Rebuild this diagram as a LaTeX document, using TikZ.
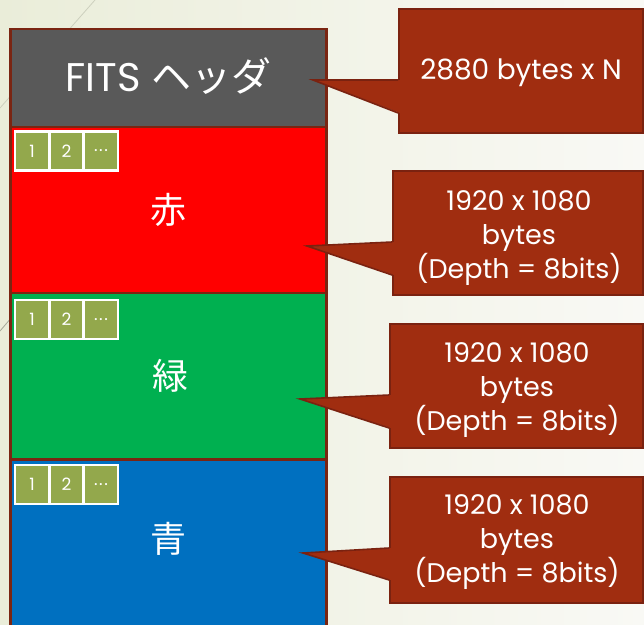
\documentclass[tikz,border=0pt]{standalone}
\usepackage{fontspec}
\setmainfont{Poppins}
\newfontfamily\jpfont{Noto Sans CJK JP}
\usetikzlibrary{calc}
\definecolor{bgL}{HTML}{EAEDD9}
\definecolor{bgR}{HTML}{F9F9F5}
\definecolor{edge}{HTML}{7A2512}
\definecolor{hdrc}{HTML}{595959}
\definecolor{redc}{HTML}{FF0000}
\definecolor{grnc}{HTML}{00B050}
\definecolor{bluc}{HTML}{0070C0}
\definecolor{olive}{HTML}{93A84C}
\definecolor{cofill}{HTML}{A02D10}
\definecolor{coedge}{HTML}{7A2210}
\definecolor{deco}{HTML}{CDD0BE}
\tikzset{
  layer/.style={draw=edge, line width=2.4pt, minimum width=316pt, inner sep=0pt, text=white},
  sq/.style={draw=white, line width=2.6pt, fill=olive, minimum width=34pt, minimum height=39pt, inner sep=0pt, text=white, font=\fontsize{17}{17}\selectfont},
  callout/.style={fill=cofill, draw=coedge, line width=1.6pt, inner sep=0pt, text=white, align=center, font=\fontsize{27}{34}\selectfont},
  ptr/.style={fill=cofill},
  ptredge/.style={draw=coedge, line width=1.6pt, line join=miter},
  lbl/.style={text=white, inner sep=0pt, align=center, font=\fontsize{27}{34}\selectfont},
}
\begin{document}
\begin{tikzpicture}[x=1pt,y=-1pt]
\useasboundingbox (0,0) rectangle (644,624);
\shade[left color=bgL, right color=bgR] (0,0) rectangle (644,624);
\draw[deco, line width=0.8pt] (0,108) -- (95,0);
\draw[deco!80!black, line width=0.8pt] (0,331) -- (12,317);

% stack
\node[layer, fill=hdrc, minimum height=98pt] (hdr) at (168.5,78) {};
\node[text=white, inner sep=0pt] (hdrL) at (168.5,76)
  {\fontsize{40}{40}\selectfont FITS \jpfont ヘッダ};
\node[layer, fill=redc, minimum height=166pt] (red) at (168.5,210) {};
\node[text=white, font=\jpfont\fontsize{36}{36}\selectfont] (redL) at (168.5,210) {赤};
\node[layer, fill=grnc, minimum height=166pt] (grn) at (168.5,376) {};
\node[text=white, font=\jpfont\fontsize{36}{36}\selectfont] (grnL) at (170,376) {緑};
\node[layer, fill=bluc, minimum height=170pt] (blu) at (168.5,545) {};
\node[text=white, font=\jpfont\fontsize{36}{36}\selectfont] (bluL) at (168.5,539) {青};

% squares
\foreach \g/\y in {r/151, g/319.5, b/484.5}{
  \node[sq] (\g1) at (32,\y) {1};
  \node[sq] (\g2) at (66.5,\y) {2};
  \node[sq] (\g3) at (101,\y) {{.}\kern1.5pt{.}\kern1.5pt{.}};
}

% callouts
\node[callout, minimum width=244pt, minimum height=124pt] (c1) at (521,71) {};
\node[callout, minimum width=250pt, minimum height=124pt] (c2) at (518,233) {};
\node[callout, minimum width=253pt, minimum height=124pt] (c3) at (516.5,386) {};
\node[callout, minimum width=253pt, minimum height=126pt] (c4) at (516.5,540) {};

\coordinate (t1) at (313,80);  \coordinate (a1) at (c1.west |- 0,80);  \coordinate (z1) at (c1.west |- 0,113);
\coordinate (t2) at (307,246); \coordinate (a2) at (c2.west |- 0,242); \coordinate (z2) at (c2.west |- 0,275);
\coordinate (t3) at (300,399); \coordinate (a3) at (c3.west |- 0,395); \coordinate (z3) at (c3.west |- 0,428);
\coordinate (t4) at (303,553); \coordinate (a4) at (c4.west |- 0,548); \coordinate (z4) at (c4.west |- 0,580);
\foreach \i in {1,2,3,4}{
  \fill[ptr] ($(a\i)+(1.6,0)$) -- (t\i) -- ($(z\i)+(1.6,0)$) -- cycle;
  \draw[ptredge] (a\i) -- (t\i) -- (z\i);
}

\node[lbl, font=\fontsize{28}{28}\selectfont] (c1L) at (521,73) {2880 bytes x N};
\node[lbl] (c2L) at (519,238) {1920 x 1080\\bytes\\(Depth = 8bits)};
\node[lbl] (c3L) at (517,390) {1920 x 1080\\bytes\\(Depth = 8bits)};
\node[lbl] (c4L) at (517,542) {1920 x 1080\\bytes\\(Depth = 8bits)};
\end{tikzpicture}
\end{document}
